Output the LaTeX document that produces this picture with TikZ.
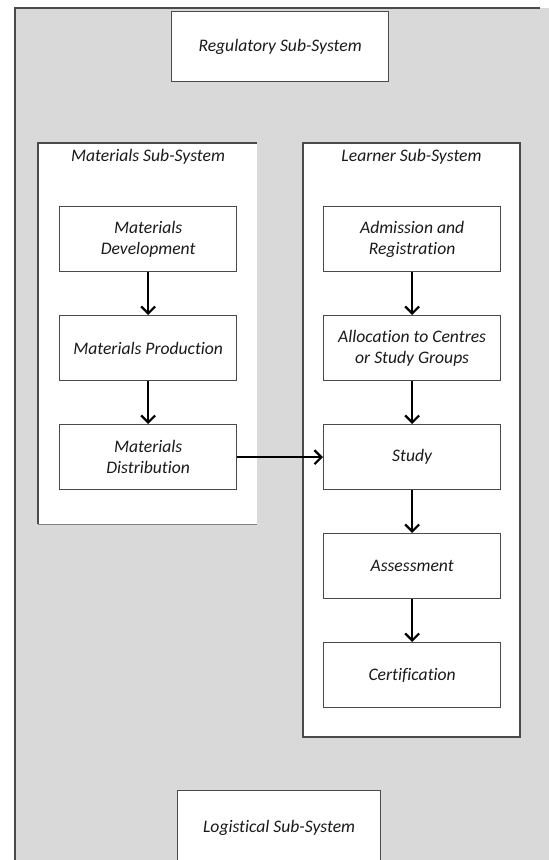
\documentclass[tikz,border=0pt]{standalone}
\usepackage{fontspec}
\setmainfont[Ligatures=NoCommon]{Carlito}
\usetikzlibrary{arrows.meta}
\definecolor{panelgray}{HTML}{D9D9D9}
\definecolor{edgegray}{HTML}{4A4A4A}
\definecolor{inkcol}{HTML}{1A1A1A}
\begin{document}
\begin{tikzpicture}[x=1pt,y=-1pt,
  stagebox/.style={draw=edgegray,line width=1.3pt,fill=white,minimum width=177pt,
    minimum height=65pt,align=center,text=inkcol,
    font=\itshape\fontsize{17.6}{21}\selectfont,
    inner sep=0pt,anchor=north west},
  titlebox/.style={stagebox},
  frametitle/.style={text=inkcol,font=\itshape\fontsize{17.6}{21}\selectfont,anchor=center},
  flow/.style={line width=2.2pt,-{Straight Barb[length=7pt,width=14pt,line width=2.2pt]}}]
\useasboundingbox (0,0) rectangle (549,860);
% outer shaded region
\fill[panelgray] (15,8) rectangle (549,860);
\draw[edgegray,line width=1.4pt] (15,860) -- (15,8) -- (540,8);
% top and bottom sub-systems
\node[titlebox,minimum width=217pt,minimum height=70pt] (reg) at (171,11) {Regulatory Sub-System};
\node[titlebox,minimum width=203pt,minimum height=75pt] (log) at (177,790) {Logistical Sub-System};
% materials frame
\fill[white] (38,143) rectangle (257,524);
\draw[edgegray,line width=1.3pt] (257,143) -- (38,143) -- (38,524);
\draw[gray,line width=1pt] (38,524) -- (257,524);
\node[frametitle] (mtitle) at (148,157) {Materials Sub-System};
% learner frame
\draw[edgegray,line width=1.3pt,fill=white] (303,143) rectangle (520,737);
\node[frametitle] (ltitle) at (411.5,157) {Learner Sub-System};
% materials stages
\node[stagebox] (mdev) at (59,206) {Materials\\Development};
\node[stagebox] (mprod) at (59,315) {Materials Production};
\node[stagebox] (mdist) at (59,424) {Materials\\Distribution};
% learner stages
\node[stagebox] (adm) at (323,206) {Admission and\\Registration};
\node[stagebox] (alloc) at (323,315) {Allocation to Centres\\or Study Groups};
\node[stagebox] (study) at (323,424) {Study};
\node[stagebox] (assess) at (323,533) {Assessment};
\node[stagebox] (cert) at (323,642) {Certification};
% connectors
\draw[flow] (mdev) -- (mprod);
\draw[flow] (mprod) -- (mdist);
\draw[flow] (adm) -- (alloc);
\draw[flow] (alloc) -- (study);
\draw[flow] (study) -- (assess);
\draw[flow] (assess) -- (cert);
\draw[flow] (mdist) -- (study);
\end{tikzpicture}
\end{document}
